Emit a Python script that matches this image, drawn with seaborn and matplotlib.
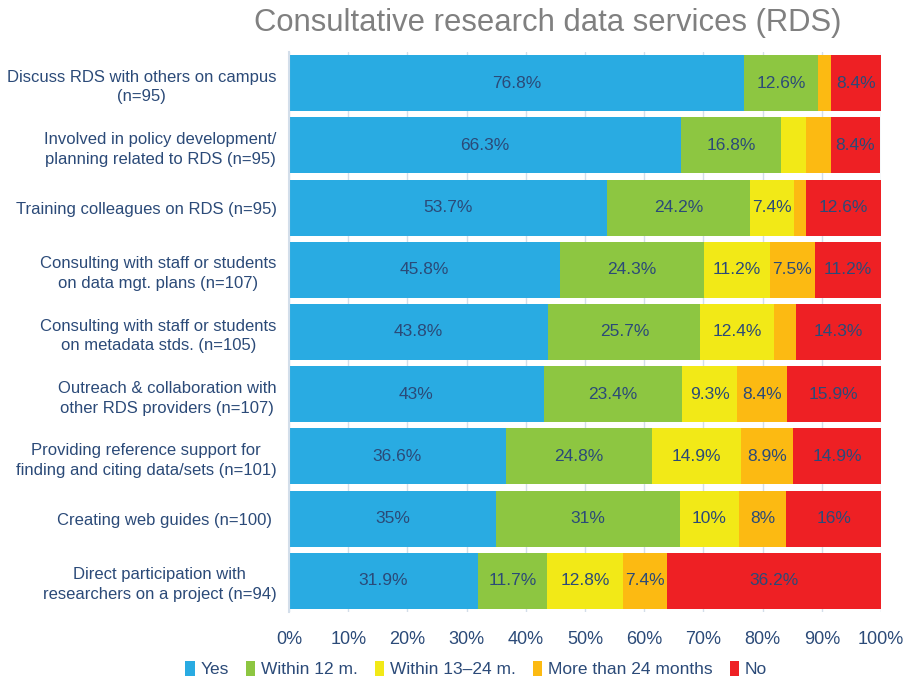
"""
Consultative research data services (RDS) - stacked horizontal bars.
"""

import pandas as pd
import matplotlib.pyplot as plt
import seaborn as sns

# ── Data ─────────────────────────────────────────────────────────────────────
services = [
    "Discuss RDS with others on campus\n(n=95)",
    "Involved in policy development/\nplanning related to RDS (n=95)",
    "Training colleagues on RDS (n=95)",
    "Consulting with staff or students\non data mgt. plans (n=107)",
    "Consulting with staff or students\non metadata stds. (n=105)",
    "Outreach & collaboration with\nother RDS providers (n=107)",
    "Providing reference support for\nfinding and citing data/sets (n=101)",
    "Creating web guides (n=100) ",
    "Direct participation with\nresearchers on a project (n=94)",
]
series = ["Yes", "Within 12 m.", "Within 13–24 m.", "More than 24 months", "No"]

yes        = [76.8, 66.3, 53.7, 45.8, 43.8, 43.0, 36.6, 35.0, 31.9]
within_12  = [12.6, 16.8, 24.2, 24.3, 25.7, 23.4, 24.8, 31.0, 11.7]
within_24  = [0.0, 4.2, 7.4, 11.2, 12.4, 9.3, 14.9, 10.0, 12.8]
more_24    = [2.2, 4.2, 2.1, 7.5, 3.8, 8.4, 8.9, 8.0, 7.4]
no         = [8.4, 8.4, 12.6, 11.2, 14.3, 15.9, 14.9, 16.0, 36.2]

colors = ["#29ABE2", "#8DC641", "#F2E917", "#FCBA12", "#EE2024"]

TEXT_COLOR = "#2B4A78"
GRID_COLOR = "#D3DEEA"
MIN_LABEL  = 5.0   # segments narrower than this get no label

df = pd.DataFrame(
    {"service": services, series[0]: yes, series[1]: within_12,
     series[2]: within_24, series[3]: more_24, series[4]: no}
)
cum = df[series].cumsum(axis=1)
cum["service"] = df["service"]

# ── Plot ─────────────────────────────────────────────────────────────────────
sns.set_theme(style="white")
plt.rcParams["font.family"] = ["Liberation Sans", "DejaVu Sans"]

fig = plt.figure(figsize=(9.12, 6.78), dpi=100)
ax = fig.add_axes([289 / 912, 1 - 612 / 678, 592 / 912, 560 / 678])

# draw cumulative layers from the widest down, so each sits on top
for name, color in reversed(list(zip(series, colors))):
    sns.barplot(data=cum, x=name, y="service", orient="h", color=color,
                saturation=1, width=0.9, errorbar=None, linewidth=0,
                label=name, ax=ax)

# segment labels
for i, row in df.iterrows():
    left = 0.0
    for name in series:
        v = row[name]
        if v >= MIN_LABEL:
            ax.text(left + v / 2, i, f"{v:g}%", ha="center", va="center",
                    fontsize=12.5, color=TEXT_COLOR)
        left += v

ax.set_xlim(0, 100)
ax.set_ylim(len(services) - 0.5, -0.5)
ax.set_xticks(range(0, 101, 10))
ax.set_xticklabels([f"{t}%" for t in range(0, 101, 10)])
ax.set_xlabel("")
ax.set_ylabel("")
ax.set_axisbelow(True)
ax.xaxis.grid(True, color=GRID_COLOR, linewidth=1)
ax.yaxis.grid(False)
for side in ["top", "right", "bottom"]:
    ax.spines[side].set_visible(False)
ax.spines["left"].set_color(GRID_COLOR)
ax.spines["left"].set_linewidth(1.5)
ax.tick_params(axis="x", length=0, pad=14, labelsize=13, labelcolor=TEXT_COLOR)
ax.tick_params(axis="y", length=0, pad=9, labelsize=12, labelcolor=TEXT_COLOR)
for lab in ax.get_yticklabels():
    lab.set_multialignment("center")
    lab.set_linespacing(1.4)

fig.text(548 / 912, 1 - 23 / 678, "Consultative research data services (RDS)",
         ha="center", va="center", fontsize=22.3, color="#808080")

handles, labels = ax.get_legend_handles_labels()
if ax.get_legend() is not None:
    ax.get_legend().remove()
order = [labels.index(s) for s in series]
leg = fig.legend([handles[k] for k in order], [labels[k] for k in order],
                 loc="center", bbox_to_anchor=(476 / 912, 1 - 669 / 678),
                 ncol=5, frameon=False, fontsize=12.5, handlelength=0.55,
                 handleheight=1.0, handletextpad=0.3, columnspacing=1.0,
                 borderaxespad=0)
for t in leg.get_texts():
    t.set_color(TEXT_COLOR)

fig.savefig("out.png", dpi=100)
plt.close(fig)
